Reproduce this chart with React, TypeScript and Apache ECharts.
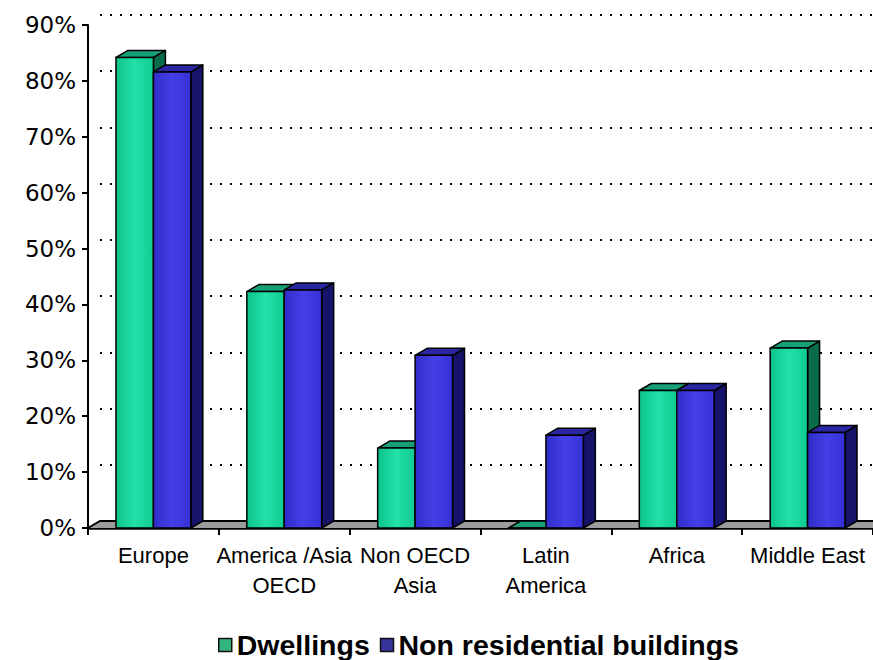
import React, { useEffect, useRef } from "react";
import * as echarts from "echarts";

// Share of each building type, by world region (percent)
const categories = [
  "Europe",
  "America /Asia\nOECD",
  "Non OECD\nAsia",
  "Latin\nAmerica",
  "Africa",
  "Middle East",
];
const seriesNames = ["Dwellings", "Non residential buildings"];
const dwellings = [84.2, 42.3, 14.3, 0, 24.6, 32.2];
const nonResidential = [81.6, 42.6, 30.9, 16.6, 24.6, 17.1];
const yMin = 0;
const yMax = 90;
const yStep = 10;

// Oblique depth of the pseudo-3D columns and floor (pixels)
const DX = 12;
const DY = -7;
const BAR_RATIO = 0.286;

const palette = [
  { front: ["#0CC48C", "#22E0A8", "#10CC93"], top: "#17A077", side: "#0B6C4A", legend: "#33B57F" },
  { front: ["#302CC8", "#443FE6", "#3530D6"], top: "#2A27A4", side: "#15146A", legend: "#34349A" },
];

function hGradient(stops: string[]) {
  return new echarts.graphic.LinearGradient(0, 0, 1, 0, [
    { offset: 0, color: stops[0] },
    { offset: 0.5, color: stops[1] },
    { offset: 1, color: stops[2] },
  ]);
}

function makeColumnRenderer(seriesIdx: number) {
  const colors = palette[seriesIdx];
  return (params: any, api: any) => {
    const idx = api.value(0);
    const v = api.value(1);
    const base = api.coord([idx, 0]);
    const top = api.coord([idx, v]);
    const band = api.size([1, 0])[0];
    const w = band * BAR_RATIO;
    const left = seriesIdx === 0 ? base[0] - w : base[0];
    const right = left + w;
    const yb = base[1];
    const yt = top[1];
    const stroke = { stroke: "#000", lineWidth: 1.5, lineJoin: "round" };
    return {
      type: "group",
      children: [
        {
          type: "polygon",
          shape: { points: [[right, yb], [right + DX, yb + DY], [right + DX, yt + DY], [right, yt]] },
          style: { fill: colors.side, ...stroke },
        },
        {
          type: "polygon",
          shape: { points: [[left, yt], [right, yt], [right + DX, yt + DY], [left + DX, yt + DY]] },
          style: { fill: colors.top, ...stroke },
        },
        {
          type: "polygon",
          shape: { points: [[left, yb], [right, yb], [right, yt], [left, yt]] },
          style: { fill: hGradient(colors.front), ...stroke },
        },
      ],
    };
  };
}

function renderFloor(params: any) {
  const cs = params.coordSys;
  const x0 = cs.x;
  const x1 = cs.x + cs.width;
  const y = cs.y + cs.height;
  return {
    type: "group",
    children: [
      {
        type: "polygon",
        shape: { points: [[x0, y], [x1, y], [x1 + DX, y + DY], [x0 + DX, y + DY]] },
        style: { fill: "#9C9C9C" },
      },
      {
        type: "polyline",
        shape: { points: [[x0, y], [x0 + DX, y + DY], [x1 + DX, y + DY]] },
        style: { fill: null, stroke: "#000", lineWidth: 2 },
      },
    ],
  };
}

export default function App() {
  const ref = useRef<HTMLDivElement>(null);

  useEffect(() => {
    if (!ref.current) return;
    const chart = echarts.init(ref.current, null, { renderer: "svg" });
    chart.setOption({
      animation: false,
      backgroundColor: "#ffffff",
      grid: [
        { left: 88, top: 25, width: 786, height: 503 },
        { left: 88 + DX, top: 25 + DY - 3, width: 786, height: 503 + 3 },
      ],
      xAxis: [
        {
          gridIndex: 0,
          type: "category",
          data: categories,
          axisLine: { lineStyle: { color: "#000", width: 2.5 } },
          axisTick: { show: true, length: 7, lineStyle: { color: "#000", width: 2 } },
          axisLabel: {
            interval: 0,
            color: "#000",
            fontFamily: "Liberation Sans",
            fontSize: 22,
            lineHeight: 30,
            margin: 12,
          },
        },
        { gridIndex: 1, type: "category", data: categories, show: false },
      ],
      yAxis: [
        {
          gridIndex: 0,
          type: "value",
          min: yMin,
          max: yMax,
          interval: yStep,
          axisLine: { show: true, lineStyle: { color: "#000", width: 2 } },
          axisTick: { show: true, length: 6, lineStyle: { color: "#000", width: 2 } },
          axisLabel: {
            formatter: "{value}%",
            color: "#000",
            fontFamily: "DejaVu Sans",
            fontSize: 23,
            margin: 12,
          },
          splitLine: { show: false },
        },
        {
          gridIndex: 1,
          type: "value",
          min: yMin,
          max: yMax,
          interval: yStep,
          axisLine: { show: false },
          axisTick: { show: false },
          axisLabel: { show: false },
          splitLine: { show: true, lineStyle: { color: "#000", width: 2, type: [2, 8] } },
        },
      ],
      legend: {
        left: 218,
        top: 630,
        padding: 0,
        itemWidth: 13,
        itemHeight: 13,
        itemGap: 10,
        itemTextGap: 5,
        textStyle: {
          color: "#000",
          fontFamily: "Liberation Sans",
          fontWeight: "bold",
          fontSize: 28.5,
          lineHeight: 30,
        },
        data: seriesNames.map((name, i) => ({
          name,
          icon: "rect",
          itemStyle: { color: palette[i].legend, borderColor: "#111", borderWidth: 1.5 },
        })),
      },
      series: [
        {
          type: "custom",
          name: "floor",
          xAxisIndex: 0,
          yAxisIndex: 0,
          silent: true,
          z: 1,
          data: [[0, 0]],
          renderItem: renderFloor,
        },
        {
          type: "custom",
          name: seriesNames[0],
          xAxisIndex: 0,
          yAxisIndex: 0,
          z: 2,
          itemStyle: { color: palette[0].legend },
          data: dwellings.map((v, i) => [i, v]),
          renderItem: makeColumnRenderer(0),
        },
        {
          type: "custom",
          name: seriesNames[1],
          xAxisIndex: 0,
          yAxisIndex: 0,
          z: 3,
          itemStyle: { color: palette[1].legend },
          data: nonResidential.map((v, i) => [i, v]),
          renderItem: makeColumnRenderer(1),
        },
      ],
    });
    return () => chart.dispose();
  }, []);

  return (
    <div
      ref={ref}
      style={{ position: "fixed", left: 0, top: 0, width: 873, height: 660, background: "#fff" }}
    />
  );
}
